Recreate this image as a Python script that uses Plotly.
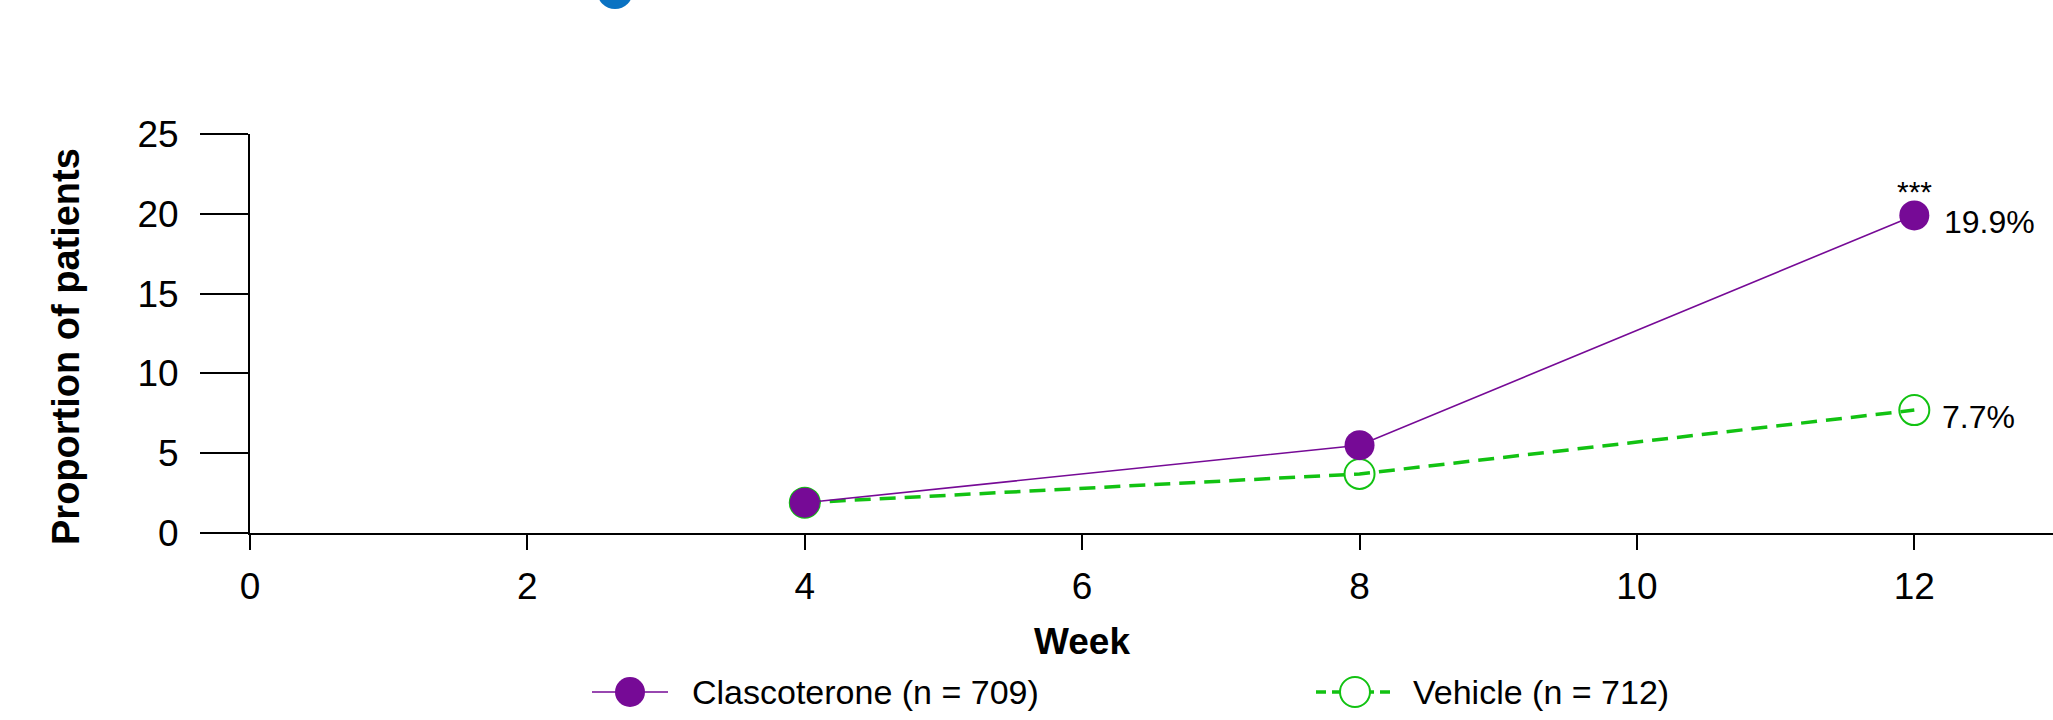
import plotly.graph_objects as go

weeks = [4, 8, 12]
clascoterone = [1.9, 5.5, 19.9]
vehicle = [1.9, 3.7, 7.7]
x_ticks = [0, 2, 4, 6, 8, 10, 12]
y_ticks = [0, 5, 10, 15, 20, 25]
series_names = ["Clascoterone (n = 709)", "Vehicle (n = 712)"]
end_labels = ["19.9%", "7.7%"]

PURPLE = "#760A96"
GREEN = "#12C212"
FONT = "Liberation Sans, Arial, sans-serif"

W, H = 2053, 720
L, R, T, B = 250, 0, 134, 187
pw, ph = W - L - R, H - T - B


def px(x):
    return (x - L) / pw


def py(y):
    return (H - B - y) / ph


fig = go.Figure()
fig.add_trace(go.Scatter(
    x=weeks, y=vehicle, mode="lines+markers", name=series_names[1],
    line=dict(color=GREEN, width=3.5, dash="16px,9px"),
    marker=dict(symbol="circle-open", size=30, color=GREEN, line=dict(width=2, color=GREEN)),
    showlegend=False,
))
fig.add_trace(go.Scatter(
    x=weeks, y=clascoterone, mode="lines+markers", name=series_names[0],
    line=dict(color=PURPLE, width=1.6),
    marker=dict(symbol="circle", size=30, color=PURPLE),
    showlegend=False,
))

annotations = [
    dict(x=weeks[-1], y=clascoterone[-1], text=end_labels[0], showarrow=False,
         xanchor="left", yanchor="middle", xshift=28, yshift=-7,
         font=dict(family=FONT, size=32, color="black")),
    dict(x=weeks[-1], y=vehicle[-1], text=end_labels[1], showarrow=False,
         xanchor="left", yanchor="middle", xshift=26, yshift=-7,
         font=dict(family=FONT, size=32, color="black")),
    dict(x=weeks[-1], y=clascoterone[-1], text="***", showarrow=False,
         xanchor="center", yanchor="middle", yshift=24,
         font=dict(family=FONT, size=30, color="black")),
    dict(xref="paper", yref="paper", x=px(66), y=py(347), text="<b>Proportion of patients</b>",
         textangle=-90, showarrow=False, xanchor="center", yanchor="middle",
         font=dict(family=FONT, size=38, color="black")),
    dict(xref="x", yref="paper", x=6, y=py(641), text="<b>Week</b>", showarrow=False,
         xanchor="center", yanchor="middle",
         font=dict(family=FONT, size=37, color="black")),
    dict(xref="paper", yref="paper", x=px(690), y=py(692), text=series_names[0], showarrow=False,
         xanchor="left", yanchor="middle", font=dict(family=FONT, size=34, color="black")),
    dict(xref="paper", yref="paper", x=px(1411), y=py(692), text=series_names[1], showarrow=False,
         xanchor="left", yanchor="middle", font=dict(family=FONT, size=34, color="black")),
]

ly = py(692)
r = 15
shapes = [
    # legend: clascoterone
    dict(type="line", xref="paper", yref="paper", x0=px(592), x1=px(668), y0=ly, y1=ly,
         line=dict(color=PURPLE, width=1.6)),
    dict(type="circle", xref="paper", yref="paper", x0=px(630 - r), x1=px(630 + r),
         y0=py(692 + r), y1=py(692 - r), fillcolor=PURPLE, line=dict(width=0)),
    # legend: vehicle
    dict(type="line", xref="paper", yref="paper", x0=px(1316), x1=px(1394), y0=ly, y1=ly,
         line=dict(color=GREEN, width=3.5, dash="10px,6px")),
    dict(type="circle", xref="paper", yref="paper", x0=px(1355 - r), x1=px(1355 + r),
         y0=py(692 + r), y1=py(692 - r), fillcolor="white", line=dict(color=GREEN, width=2)),
    # clipped blue emblem at top
    dict(type="circle", xref="paper", yref="paper", x0=px(597), x1=px(633),
         y0=py(9), y1=py(-27), fillcolor="#0A72C2", line=dict(width=0)),
]

fig.update_layout(
    width=W, height=H,
    margin=dict(l=L, r=R, t=T, b=B, pad=0),
    paper_bgcolor="white", plot_bgcolor="white",
    font=dict(family=FONT, size=37, color="black"),
    annotations=annotations, shapes=shapes,
    showlegend=False,
)
fig.update_xaxes(
    range=[0, 13], tickvals=x_ticks, ticktext=[str(v) for v in x_ticks],
    showline=True, linecolor="black", linewidth=2, zeroline=False, showgrid=False,
    ticks="outside", ticklen=15, tickwidth=1.5, tickcolor="black",
    tickfont=dict(family=FONT, size=37, color="black"), ticklabelstandoff=5,
)
fig.update_yaxes(
    range=[0, 25], tickvals=y_ticks, ticktext=[str(v) for v in y_ticks],
    showline=True, linecolor="black", linewidth=2, zeroline=False, showgrid=False,
    ticks="outside", ticklen=48, tickwidth=2, tickcolor="black",
    tickfont=dict(family=FONT, size=37, color="black"), ticklabelstandoff=14,
)

fig.write_html(
    "out.html",
    config={"displayModeBar": False},
    post_script="document.body.style.margin='0'; document.body.style.overflow='hidden';",
)
